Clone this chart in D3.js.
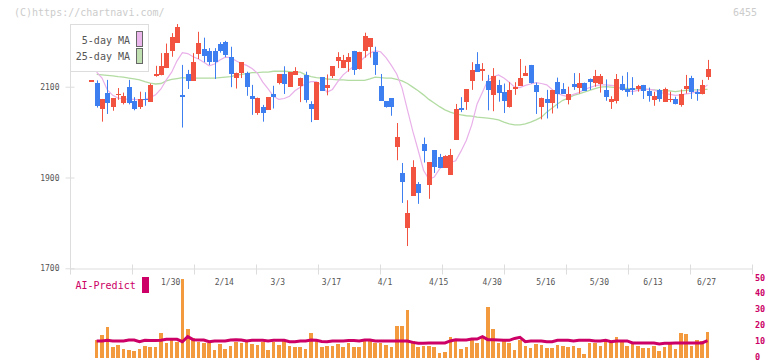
<!DOCTYPE html>
<html>
<head>
<meta charset="utf-8">
<script src="https://cdn.jsdelivr.net/npm/d3@7"></script>
<style>
body { margin: 0; background: #fff; }
svg { display: block; font-family: "DejaVu Sans Mono", monospace; }
</style>
</head>
<body>
<svg id="chart" width="772" height="361"></svg>
<script>
// daily candles [open, high, low, close]
var ohlc = [
  [2114,2114,2114,2114],[2108,2114,2054,2058],[2051,2073,2023,2073],[2086,2115,2040,2063],[2056,2075,2047,2075],
  [2081,2097,2071,2085],[2065,2087,2061,2079],[2099,2115,2061,2063],[2068,2077,2048,2051],[2056,2089,2051,2073],
  [2074,2088,2058,2071],[2067,2107,2067,2104],[2125,2146,2122,2127],[2125,2174,2125,2146],[2141,2195,2141,2174],
  [2179,2218,2166,2210],[2197,2238,2197,2232],[2082,2148,2010,2077],[2128,2137,2095,2113],[2113,2174,2113,2154],
  [2173,2221,2161,2196],[2184,2208,2154,2168],[2179,2185,2148,2154],[2179,2185,2117,2155],[2194,2198,2175,2179],
  [2199,2201,2165,2169],[2165,2188,2099,2129],[2120,2131,2096,2131],[2130,2154,2119,2154],[2131,2133,2080,2099],
  [2080,2104,2038,2073],[2043,2076,2038,2076],[2055,2060,2023,2043],[2049,2077,2049,2077],[2084,2102,2052,2078],
  [2109,2128,2105,2128],[2128,2145,2084,2107],[2100,2132,2100,2132],[2126,2143,2126,2135],[2102,2120,2066,2120],
  [2126,2133,2065,2071],[2062,2068,2022,2050],[2027,2110,2027,2110],[2121,2121,2091,2091],[2098,2127,2081,2104],
  [2124,2145,2119,2145],[2157,2176,2141,2165],[2142,2170,2141,2159],[2154,2174,2133,2165],[2179,2179,2126,2137],
  [2138,2177,2138,2177],[2179,2219,2164,2212],[2188,2207,2164,2207],[2177,2188,2126,2148],[2102,2128,2069,2069],
  [2068,2068,2054,2056],[2075,2075,2036,2056],[1968,2020,1938,1989],[1910,1932,1844,1891],[1789,1850,1749,1822],
  [1860,1938,1860,1923],[1885,1890,1842,1866],[1974,1988,1933,1959],[1884,1934,1853,1934],[1960,1960,1910,1924],
  [1945,1952,1921,1921],[1921,1949,1921,1947],[1906,1963,1906,1949],[1983,2062,1983,2051],[2053,2077,2044,2049],
  [2067,2095,2049,2095],[2113,2154,2093,2137],[2150,2176,2133,2133],[2135,2152,2113,2139],[2113,2126,2048,2093],
  [2082,2141,2046,2124],[2104,2115,2067,2087],[2089,2107,2042,2068],[2056,2110,2054,2093],[2096,2110,2082,2100],
  [2102,2161,2102,2119],[2124,2146,2124,2130],[2148,2148,2107,2109],[2104,2109,2040,2089],[2056,2076,2028,2076],
  [2073,2093,2030,2065],[2065,2093,2041,2093],[2110,2120,2052,2084],[2095,2108,2084,2084],[2071,2100,2061,2084],
  [2106,2130,2093,2100],[2098,2130,2085,2109],[2109,2109,2091,2091],[2118,2118,2093,2110],[2109,2137,2100,2124],
  [2107,2128,2087,2124],[2093,2116,2069,2077],[2067,2079,2051,2072],[2069,2128,2063,2116],[2107,2124,2091,2093],
  [2094,2132,2078,2089],[2097,2121,2082,2095],[2096,2104,2089,2102],[2104,2104,2073,2091],[2091,2098,2067,2080],
  [2071,2089,2058,2080],[2093,2095,2067,2073],[2067,2098,2067,2095],[2072,2089,2066,2073],[2073,2078,2061,2061],
  [2060,2094,2056,2084],[2095,2126,2085,2102],[2119,2124,2073,2088],[2089,2095,2069,2083],[2083,2115,2083,2104],
  [2122,2159,2115,2139]
];

var ma5 = [null,
  2132,2119,2093,2081,2075,2073,2072,2072,2071,2072,2076,2082,2095,2115,2132,2157,2175,2173,2166,2161,
  2154,2146,2150,2159,2165,2164,2157,2151,2147,2140,2130,2110,2095,2079,2072,2074,2079,2091,2099,2107,
  2111,2111,2103,2088,2094,2111,2126,2136,2145,2154,2165,2174,2179,2177,2164,2147,2128,2097,2049,2002,
  1960,1916,1896,1901,1919,1928,1933,1937,1958,1982,2016,2062,2088,2114,2122,2126,2119,2110,2099,2098,
  2103,2106,2109,2107,2104,2094,2085,2081,2078,2083,2087,2094,2098,2102,2104,2104,2103,2102,2095,2092,
  2089,2092,2094,2094,2093,2088,2085,2083,2081,2082,2084,2086,2089,2095,2104];

var ma25 = [null,
  2127,2126,2125,2124,2122,2121,2119,2117,2115,2111,2108,2106,2107,2113,2116,2118,2120,2119,2119,2119,
  2119,2119,2119,2120,2121,2122,2125,2127,2129,2131,2131,2132,2132,2134,2134,2134,2133,2132,2132,2126,
  2122,2120,2119,2117,2116,2115,2115,2114,2114,2114,2114,2117,2121,2120,2119,2119,2116,2113,2107,2099,
  2091,2082,2072,2064,2056,2049,2044,2040,2038,2036,2035,2033,2032,2031,2029,2027,2022,2018,2016,2016,
  2018,2022,2027,2033,2044,2053,2062,2070,2075,2081,2084,2088,2092,2096,2099,2100,2099,2098,2097,2096,
  2095,2095,2094,2094,2093,2092,2091,2091,2089,2091,2092,2093,2093,2094,2094];

// volume (right axis units)
var volume = [0,
  11.4,14.6,19.6,7,8.2,5.9,5,4.4,5.7,7.4,7,7,15.8,9.5,12.7,10.3,50,18.4,12.4,10.3,
  9.5,9.5,5,8.9,5.9,7.4,10.3,9.5,11,8.9,8.2,10.3,5,10.3,8.2,11,7.4,6.8,6.8,5.7,
  15.8,11,7,7.6,7.6,8.9,7,9.3,7,7,12,12,9.5,9.5,8,7,20.3,20.3,30.4,10.8,
  7,7.6,7.6,7,3.2,3.8,13.3,11.4,5.7,7,11.4,9.5,12.7,32.3,18.4,9.5,11.4,9.5,5,11.4,
  7.6,6.3,8.9,8.2,6.3,6.3,8.2,7.6,7,7.6,6.3,2.5,9.5,9.5,7.6,10.8,10.8,13,10,7.6,
  8.9,7.6,6.3,6.3,7.6,4.4,7,8.9,5.7,15.8,15.2,7.6,11.4,10.8,16.5];

var aiPredict = [null,
  10.8,10.8,11.2,10.8,10.8,10.8,11.4,11.4,10.3,11.2,11,11,11.2,11.8,11.8,11.8,10.3,13.5,11.6,11.4,
  11.4,10.3,10.8,10.8,10.8,11.4,11.6,11.4,10.8,11.2,11.2,11.2,10.8,11.2,11.2,11.2,10.3,10.3,10.8,10.8,
  11.4,11.2,10.5,10.3,10.8,10.8,10.8,11,11,10.8,11.4,11.4,10.8,10.8,10.8,10.8,10.8,10.8,10.8,9.9,
  9.3,9.3,9.5,9.5,9.5,9.5,10.8,11.6,11.4,11.4,12,12,13.5,11.6,11.6,11.4,11.2,11.2,12.4,13.1,
  10.3,10.8,10.8,10.8,10.3,10.3,11.2,11.2,11.2,10.8,11.2,11.2,11.2,10.8,10.8,11.2,10.3,10.8,10.8,10.8,
  9.5,9.5,9.5,9.5,9.5,8.9,9.3,9.3,9.5,9.5,9.5,9.5,9.5,9.5,11];

var dateLabels = ["1/30","2/14","3/3","3/17","4/1","4/15","4/30","5/16","5/30","6/13","6/27"];
var dateLabelIdx = [15,25,35,45,55,65,75,85,95,105,115];
var priceTicks = [1700,1900,2100];
var volTicks = [0,10,20,30,40,50];

var svg = d3.select("#chart");

var x = d3.scaleLinear().domain([0, ohlc.length - 1]).range([91.3, 707.5]);
var y = d3.scaleLinear().domain([1700, 2100]).range([268.3, 86.7]);
var yv = d3.scaleLinear().domain([0, 50]).range([358, 279]);
var grid = d3.scaleLinear().domain([0, 11]).range([70, 752]);

var axisColor = "#ddd";

// x axis line with evenly spaced ticks
var gx = svg.append("g")
    .attr("transform", "translate(0,268.5)")
    .call(d3.axisBottom(grid).ticks(11).tickSizeOuter(0).tickFormat(""));
gx.select(".domain").attr("stroke", axisColor);
gx.selectAll(".tick line").attr("stroke", axisColor).attr("y1", -4).attr("y2", 6);

// date labels
var gd = svg.append("g")
    .attr("transform", "translate(-1.5,268.3)")
    .call(d3.axisBottom(x).tickValues(dateLabelIdx).tickSize(0).tickPadding(11)
        .tickFormat(function(d, i) { return dateLabels[i]; }));
gd.select(".domain").remove();
gd.selectAll("text").attr("fill", "#555").style("font-size", "8px")
    .style("font-family", "DejaVu Sans Mono, monospace");

// y axis
svg.append("line")
    .attr("x1", 70.5).attr("x2", 70.5).attr("y1", 24).attr("y2", 270)
    .attr("stroke", axisColor);
var gy = svg.append("g")
    .attr("transform", "translate(70.5,0)")
    .call(d3.axisLeft(y).tickValues(priceTicks).tickSize(5).tickPadding(6).tickFormat(d3.format("d")));
gy.select(".domain").remove();
gy.selectAll(".tick line").attr("stroke", axisColor).attr("x1", 4);
gy.selectAll("text").attr("fill", "#555").style("font-size", "8px")
    .style("font-family", "DejaVu Sans Mono, monospace");

// moving averages
var lineMa = function(arr) {
    return d3.line()
        .defined(function(d) { return d != null; })
        .x(function(d, i) { return x(i); })
        .y(function(d) { return y(d); })(arr);
};
svg.append("path").attr("d", lineMa(ma25))
    .attr("fill", "none").attr("stroke", "#b2dca2").attr("stroke-width", 1.3);
svg.append("path").attr("d", lineMa(ma5))
    .attr("fill", "none").attr("stroke", "#e9b0e9").attr("stroke-width", 1.2);

// candles
var up = "#f25340", down = "#3d7ef0";
var candle = svg.append("g").selectAll("g")
    .data(ohlc)
    .enter().append("g");
candle.append("line")
    .attr("x1", function(d, i) { return Math.round(x(i)) + 0.5; })
    .attr("x2", function(d, i) { return Math.round(x(i)) + 0.5; })
    .attr("y1", function(d) { return y(d[1]); })
    .attr("y2", function(d) { return y(d[2]); })
    .attr("stroke", function(d) { return d[3] >= d[0] ? up : down; })
    .attr("stroke-width", 1);
candle.append("rect")
    .attr("x", function(d, i) { return Math.round(x(i)) - 2; })
    .attr("width", 5)
    .attr("y", function(d) { return y(Math.max(d[0], d[3])); })
    .attr("height", function(d) { return Math.max(1.5, Math.abs(y(d[0]) - y(d[3]))); })
    .attr("fill", function(d) { return d[3] >= d[0] ? up : down; })
    .attr("shape-rendering", "crispEdges");

// volume bars
svg.append("g").selectAll("rect")
    .data(volume)
    .enter().append("rect")
    .attr("x", function(d, i) { return x(i) - 1.8; })
    .attr("width", 3.6)
    .attr("y", function(d) { return yv(d); })
    .attr("height", function(d) { return yv(0) - yv(d); })
    .attr("fill", "#f39a3e")
    .attr("shape-rendering", "crispEdges");

// AI-Predict line
svg.append("path")
    .attr("d", d3.line()
        .defined(function(d) { return d != null; })
        .x(function(d, i) { return x(i); })
        .y(function(d) { return yv(d); })(aiPredict))
    .attr("fill", "none").attr("stroke", "#cc0066").attr("stroke-width", 3);

// right volume axis
var gv = svg.append("g")
    .attr("transform", "translate(755,-1.5)")
    .call(d3.axisRight(yv).tickValues(volTicks).tickSize(0).tickPadding(0));
gv.select(".domain").remove();
gv.selectAll("text").attr("fill", "#cc0066").attr("dy", "0.3em")
    .style("font-size", "8.5px").style("font-weight", "bold")
    .style("font-family", "DejaVu Sans Mono, monospace");

svg.append("text").attr("x", 75.5).attr("y", 289)
    .attr("fill", "#cc0066").style("font-size", "10px").text("AI-Predict");
svg.append("rect").attr("x", 142).attr("y", 277).attr("width", 7).attr("height", 16)
    .attr("fill", "#cc0066");

// legend
var legend = svg.append("g");
legend.append("rect")
    .attr("x", 70.5).attr("y", 24.5).attr("width", 78).attr("height", 47)
    .attr("fill", "#fff").attr("stroke", "#ddd");
legend.append("text").attr("x", 130).attr("y", 44).attr("text-anchor", "end")
    .attr("fill", "#555").style("font-size", "10px").text("5-day MA");
legend.append("text").attr("x", 130).attr("y", 60).attr("text-anchor", "end")
    .attr("fill", "#555").style("font-size", "10px").text("25-day MA");
legend.append("rect").attr("x", 136.5).attr("y", 31.5).attr("width", 6).attr("height", 15)
    .attr("fill", "#ebb6eb").attr("stroke", "#666");
legend.append("rect").attr("x", 136.5).attr("y", 48.5).attr("width", 6).attr("height", 15)
    .attr("fill", "#c0e0b2").attr("stroke", "#666");

// header texts
svg.append("text").attr("x", 14).attr("y", 16)
    .attr("fill", "#ccc").style("font-size", "10px").text("(C)https://chartnavi.com/");
svg.append("text").attr("x", 757).attr("y", 16).attr("text-anchor", "end")
    .attr("fill", "#ccc").style("font-size", "10px").text("6455");
</script>
</body>
</html>
